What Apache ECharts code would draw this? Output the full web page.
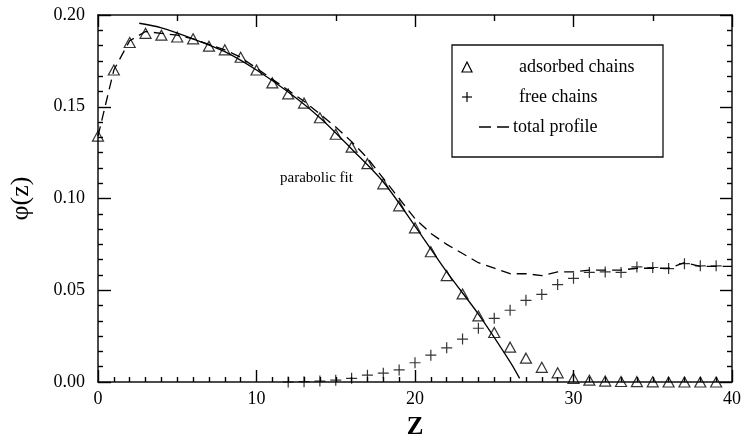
<!DOCTYPE html>
<html>
<head>
<meta charset="utf-8">
<script src="https://cdn.jsdelivr.net/npm/echarts@6/dist/echarts.min.js"></script>
<style>
  html, body { margin: 0; padding: 0; background: #fff; }
  #chart { width: 744px; height: 445px; }
</style>
</head>
<body>
<div id="chart"></div>
<script>
// adsorbed chains (triangles)
const zAds = [0,1,2,3,4,5,6,7,8,9,10,11,12,13,14,15,16,17,18,19,20,21,22,23,24,25,26,27,28,29,30,31,32,33,34,35,36,37,38,39]
const phiAds = [0.134,0.170,0.185,0.190,0.189,0.188,0.187,0.183,0.181,0.177,0.170,0.163,0.157,0.152,0.144,0.135,0.128,0.119,0.108,0.096,
  0.084,0.071,0.058,0.048,0.036,0.027,0.019,0.013,0.008,0.005,0.002,0.001,0.0005,0.0003,0.0002,0.0001,0,0,0,0]
// free chains (plus)
const zFree = [12,13,14,15,16,17,18,19,20,21,22,23,24,25,26,27,28,29,30,31,32,33,34,35,36,37,38,39]
const phiFree = [0,0.0002,0.0005,0.001,0.002,0.0037,0.0048,0.0066,0.0105,0.0146,0.0186,0.0234,0.0293,0.0347,0.0391,0.0445,
  0.0477,0.0531,0.0565,0.0597,0.060,0.0597,0.0627,0.0624,0.0618,0.0645,0.0633,0.0633]
// total profile (dashed)
const zTot = [0,1,2,3,4,5,6,7,8,9,10,11,12,13,14,15,16,17,18,19,20,21,22,23,24,25,26,27,28,29,30,31,32,33,34,35,36,37,38,39,40]
const phiTot = [0.134,0.170,0.186,0.191,0.190,0.189,0.187,0.184,0.181,0.177,0.171,0.165,0.159,0.153,0.146,0.139,0.131,0.122,0.111,0.100,
  0.089,0.081,0.075,0.070,0.065,0.062,0.059,0.059,0.058,0.060,0.060,0.061,0.061,0.061,0.062,0.062,0.062,0.065,0.063,0.063,0.063]
// parabolic fit (solid)
const zFit = [2.6,4,6,8,10,12,14,16,18,20,22,24,26,26.6]
const phiFit = [0.1955,0.193,0.187,0.180,0.170,0.158,0.144,0.127,0.109,0.085,0.060,0.037,0.011,0.002]

const yTicks = ['0.00','0.05','0.10','0.15','0.20']

const pairs = (xs, ys) => xs.map((x, i) => [x, ys[i]])
const serif = '"Liberation Serif", "DejaVu Serif", serif'
// fresh objects for every axis
const line = () => ({show: true, onZero: false, lineStyle: {color: '#111', width: 1.5}})
const tick = (len) => ({show: true, inside: true, length: len, lineStyle: {color: '#000', width: 1.4}})
const minor = (n, len) => ({show: true, splitNumber: n, length: len, lineStyle: {color: '#000', width: 1.4}})

let chart = echarts.init(document.getElementById('chart'))

let option = {
  animation: false,
  backgroundColor: '#fff',
  grid: {left: 95, right: 6, top: 15, bottom: 57},
  xAxis: [
    {
      type: 'value', position: 'bottom', min: 0, max: 40, interval: 10,
      axisLine: line(), axisTick: tick(12), minorTick: minor(10, 5),
      splitLine: {show: false},
      axisLabel: {color: '#000', fontFamily: serif, fontSize: 18, margin: 8},
      name: 'Z', nameLocation: 'middle', nameGap: 33,
      nameTextStyle: {color: '#000', fontFamily: serif, fontSize: 25, fontWeight: 'bold'}
    },
    {
      type: 'value', position: 'top', min: 0, max: 40, interval: 10,
      axisLine: line(), axisTick: tick(12), minorTick: minor(2, 6),
      splitLine: {show: false},
      axisLabel: {show: false}
    }
  ],
  yAxis: [
    {
      type: 'value', position: 'left', min: 0, max: 0.2, interval: 0.05,
      axisLine: line(), axisTick: tick(13), minorTick: minor(6, 5),
      splitLine: {show: false},
      axisLabel: {
        color: '#000', fontFamily: serif, fontSize: 18, margin: 13,
        formatter: (v) => yTicks[Math.round(v / 0.05)]
      },
      name: 'φ(z)', nameLocation: 'middle', nameGap: 64, nameRotate: 90,
      nameTextStyle: {color: '#000', fontFamily: serif, fontSize: 26}
    },
    {
      type: 'value', position: 'right', min: 0, max: 0.2, interval: 0.05,
      axisLine: line(), axisTick: tick(12), minorTick: minor(6, 5),
      splitLine: {show: false},
      axisLabel: {show: false}
    }
  ],
  series: [
    {
      name: 'parabolic fit', type: 'line', data: pairs(zFit, phiFit),
      smooth: 0.3, showSymbol: false, symbol: 'none',
      lineStyle: {color: '#000', width: 1.3}
    },
    {
      name: 'total profile', type: 'line', data: pairs(zTot, phiTot),
      showSymbol: false, symbol: 'none',
      lineStyle: {color: '#000', width: 1.3, type: [10, 6]}
    },
    {
      name: 'adsorbed chains', type: 'scatter', data: pairs(zAds, phiAds),
      symbol: 'triangle', symbolSize: [11, 10],
      itemStyle: {color: 'rgba(255,255,255,0)', borderColor: '#000', borderWidth: 1.2}
    },
    {
      name: 'free chains', type: 'scatter', data: pairs(zFree, phiFree),
      symbol: 'path://M0,6H12M6,0V12', symbolSize: [11, 11],
      itemStyle: {color: 'rgba(255,255,255,0)', borderColor: '#000', borderWidth: 1.2}
    }
  ],
  graphic: [
    {type: 'rect', shape: {x: 452, y: 45, width: 211, height: 112},
      style: {fill: 'none', stroke: '#111', lineWidth: 1.3}},
    {type: 'polygon', shape: {points: [[462, 72], [472, 72], [467, 62]]},
      style: {fill: 'none', stroke: '#000', lineWidth: 1.2}},
    {type: 'line', shape: {x1: 462, y1: 97, x2: 472, y2: 97}, style: {stroke: '#000', lineWidth: 1.2}},
    {type: 'line', shape: {x1: 467, y1: 92, x2: 467, y2: 102}, style: {stroke: '#000', lineWidth: 1.2}},
    {type: 'line', shape: {x1: 479, y1: 127, x2: 509, y2: 127},
      style: {stroke: '#000', lineWidth: 1.3, lineDash: [12, 6]}},
    {type: 'text', x: 519, y: 67,
      style: {text: 'adsorbed chains', font: '18px ' + serif, fill: '#000', verticalAlign: 'middle'}},
    {type: 'text', x: 519, y: 97,
      style: {text: 'free chains', font: '18px ' + serif, fill: '#000', verticalAlign: 'middle'}},
    {type: 'text', x: 513, y: 127,
      style: {text: 'total profile', font: '18px ' + serif, fill: '#000', verticalAlign: 'middle'}},
    {type: 'text', x: 280, y: 178,
      style: {text: 'parabolic fit', font: '15px ' + serif, fill: '#000', verticalAlign: 'middle'}}
  ]
}

chart.setOption(option)
</script>
</body>
</html>
